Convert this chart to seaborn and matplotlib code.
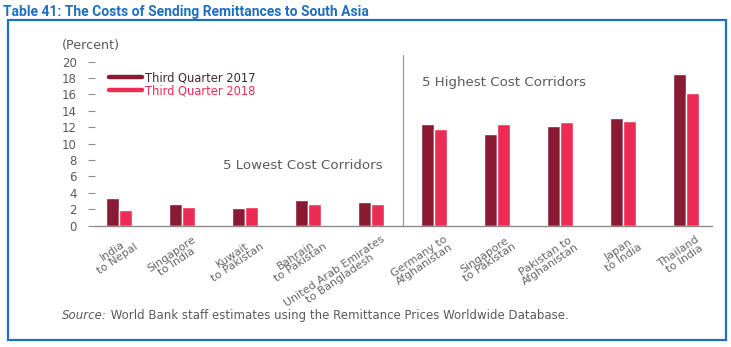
import matplotlib
matplotlib.use("Agg")
import matplotlib.pyplot as plt
from matplotlib.lines import Line2D
from matplotlib.patches import Rectangle
from matplotlib.transforms import ScaledTranslation
import pandas as pd
import seaborn as sns

corridors = [
    "India\nto Nepal",
    "Singapore\nto India",
    "Kuwait\nto Pakistan",
    "Bahrain\nto Pakistan",
    "United Arab Emirates\nto Bangladesh",
    "Germany to\nAfghanistan",
    "Singapore\nto Pakistan",
    "Pakistan to\nAfghanistan",
    "Japan\nto India",
    "Thailand\nto India",
]
q3_2017 = [3.4, 2.7, 2.2, 3.1, 2.9, 12.4, 11.2, 12.1, 13.1, 18.5]
q3_2018 = [1.9, 2.3, 2.3, 2.6, 2.6, 11.8, 12.4, 12.6, 12.8, 16.2]
series = ["Third Quarter 2017", "Third Quarter 2018"]
yticks = list(range(0, 21, 2))

colors = {"Third Quarter 2017": "#8a1a32", "Third Quarter 2018": "#ec2c55"}
legend_text_colors = {"Third Quarter 2017": "#3b2a2e", "Third Quarter 2018": "#ec2c55"}
grey = "#5a5a5a"
blue = "#1f6fc0"

df = pd.DataFrame({
    "corridor": corridors * 2,
    "cost": q3_2017 + q3_2018,
    "series": [series[0]] * len(corridors) + [series[1]] * len(corridors),
})

sns.set_theme(style="white")
plt.rcParams["font.family"] = ["DejaVu Sans"]

fig = plt.figure(figsize=(7.31, 3.47), dpi=100)
ax = fig.add_axes([0.130, 0.3496, 0.844, 0.4726])

sns.barplot(data=df, x="corridor", y="cost", hue="series", order=corridors,
            hue_order=series, palette=colors, width=0.42, saturation=1,
            legend=False, ax=ax)

ax.set_xlim(-0.38, 9.41)
ax.set_ylim(0, 20)
ax.set_yticks(yticks)
ax.set_xlabel("")
ax.set_ylabel("")
for side in ["top", "right", "left"]:
    ax.spines[side].set_visible(False)
ax.spines["bottom"].set_color("#8a8a8a")
ax.spines["bottom"].set_linewidth(1.0)
ax.tick_params(axis="y", which="both", left=True, length=5, width=0.8,
               color="#8a8a8a", labelcolor=grey, labelsize=8.5, pad=8)
ax.tick_params(axis="x", bottom=False, labelsize=7.9, labelcolor="#666666", pad=0)
shift = ScaledTranslation(10 / 100, 0, fig.dpi_scale_trans)
for lab in ax.get_xticklabels():
    lab.set_rotation(34)
    lab.set_ha("right")
    lab.set_va("top")
    lab.set_rotation_mode("anchor")
    lab.set_multialignment("center")
    lab.set_linespacing(0.92)
    lab.set_transform(lab.get_transform() + shift)

# divider between lowest and highest cost groups
ax.plot([4.5, 4.5], [0, 20.8], color="#9a9a9a", lw=0.9, clip_on=False)

ax.text(0.208, 0.37, "5 Lowest Cost Corridors", transform=ax.transAxes,
        fontsize=9.6, color=grey, ha="left", va="center")
ax.text(0.530, 0.875, "5 Highest Cost Corridors", transform=ax.transAxes,
        fontsize=9.6, color=grey, ha="left", va="center")

handles = [Line2D([0], [0], color=colors[s], lw=3.2) for s in series]
leg = ax.legend(handles, series, loc="upper left", bbox_to_anchor=(0.01, 0.99),
                frameon=False, fontsize=8.3, handlelength=2.8, handletextpad=0.3,
                labelspacing=0.0, borderaxespad=0.3)
for txt, s in zip(leg.get_texts(), series):
    txt.set_color(legend_text_colors[s])

fig.text(0.085, 0.868, "(Percent)", fontsize=9.2, color=grey, ha="left", va="center")

fig.text(0.004, 0.965, "Table 41: The Costs of Sending Remittances to South Asia",
         fontsize=10, fontweight="bold", color=blue, ha="left", va="center",
         family=["Roboto", "DejaVu Sans"])

src = fig.text(0.085, 0.092, "Source:", fontsize=8.5, color=grey, style="italic",
               ha="left", va="center")
fig.canvas.draw()
ann = fig.text(0, 0, " World Bank staff estimates using the Remittance Prices Worldwide Database.",
               fontsize=8.5, color=grey, ha="left", va="center")
renderer = fig.canvas.get_renderer()
bb = src.get_window_extent(renderer)
x1, _ = fig.transFigure.inverted().transform((bb.x1, bb.y0))
ann.set_position((x1, 0.092))

fig.add_artist(Rectangle((8 / 731, 1 - 340 / 347), 718 / 731, 320 / 347,
                         transform=fig.transFigure, fill=False,
                         edgecolor=blue, lw=1.6))

fig.savefig("out.png", dpi=100)
